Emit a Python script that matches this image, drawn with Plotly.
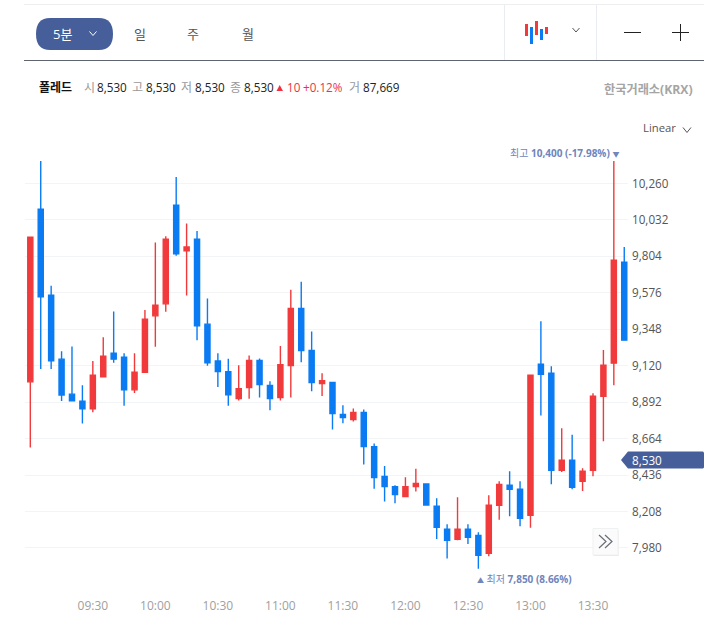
import plotly.graph_objects as go
import pandas as pd

W, H = 704, 638
RED, BLUE = "#F03A3B", "#0A7BF2"
NAVY = "#465F9B"
FONT = "Open Sans, Noto Sans CJK KR, sans-serif"

start_time = "2024-01-02 09:00"
opens = [9019,10099,9561,9161,8942,8898,8850,9050,9198,9173,8969,9079,9432,9507,10124,9839,9912,9380,9150,9082,
         8915,8984,9153,8996,8921,9121,9478,9215,9009,9015,8815,8783,8827,8614,8427,8364,8301,8364,8380,8241,
         8097,8034,8097,8059,7947,8247,8372,8347,8184,9129,9073,8466,8529,8397,8466,8929,9136,9768]
closes = [9924,9551,9150,8937,8900,8850,9060,9180,9161,8969,9079,9411,9499,9912,9820,9862,9369,9138,9084,8938,
          8977,9153,9002,8915,9127,9478,9215,9015,9027,8821,8796,8827,8614,8420,8364,8314,8364,8383,8249,8109,
          8028,8097,8047,7934,8247,8378,8347,8166,9060,9067,8466,8529,8360,8460,8929,9123,9780,9280]
highs = [9924,10400,9620,9211,9240,8998,9150,9298,9459,9198,9198,9469,9891,9930,10300,10010,9962,9540,9198,9163,
         9123,9184,9165,9023,9244,9595,9645,9334,9073,9015,8873,8852,8846,8633,8493,8372,8422,8475,8380,8291,
         8128,8297,8128,8078,8310,8397,8460,8397,9060,9398,9117,8729,8689,8479,8948,9219,10400,9862]
lows = [8608,9100,9100,8900,8900,8758,8829,9050,9138,8869,8950,9079,9238,9457,9807,9559,9280,9119,8987,8869,
        8902,8913,8921,8842,8902,8921,9142,8961,8931,8721,8760,8771,8502,8351,8270,8260,8301,8333,8249,8036,
        7915,8028,8005,7850,7928,8157,8178,8116,8107,8808,8378,8456,8347,8337,8428,8647,8998,9280]
y_ticks = [10260,10032,9804,9576,9348,9120,8892,8664,8436,8208,7980]
x_tick_labels = ["09:30","10:00","10:30","11:00","11:30","12:00","12:30","13:00","13:30"]
last_price = 8530
high_price, high_label = 10400, "10,400 (-17.98%)"
low_price, low_label = 7850, "7,850 (8.66%)"
header_items = [("시","8,530"),("고","8,530"),("저","8,530"),("종","8,530")]
tabs = ["일","주","월"]

times = pd.date_range(start_time, periods=len(opens), freq="5min")
day = start_time[:10]

fig = go.Figure(go.Candlestick(
    x=times, open=opens, high=highs, low=lows, close=closes,
    increasing=dict(line=dict(color=RED, width=1.4), fillcolor=RED),
    decreasing=dict(line=dict(color=BLUE, width=1.4), fillcolor=BLUE),
    whiskerwidth=0, showlegend=False, hoverinfo="skip",
))

px = lambda x: x / W
py = lambda y: 1 - y / H
shapes, anns = [], []
PAD = 2  # annotation inner padding

def label(x, y, text, size=11.7, color="#333", anchor="left"):
    dx = {"left": -PAD, "right": PAD}.get(anchor, 0)
    anns.append(dict(xref="paper", yref="paper", x=px(x + dx), y=py(y), text=text, showarrow=False,
                     xanchor=anchor, yanchor="middle", align=anchor,
                     font=dict(size=size, color=color, family=FONT)))

def line(x0, y0, x1, y1, color, width=1):
    shapes.append(dict(type="line", xref="paper", yref="paper", x0=px(x0), y0=py(y0), x1=px(x1), y1=py(y1),
                       line=dict(color=color, width=width)))

def rect(x0, y0, x1, y1, color, border=None):
    shapes.append(dict(type="rect", xref="paper", yref="paper", x0=px(x0), y0=py(y0), x1=px(x1), y1=py(y1),
                       fillcolor=color, line=dict(width=1 if border else 0, color=border)))

def path(points, color=None, fill=None, width=1, close=False):
    d = "M" + " L".join(f"{px(a):.5f},{py(b):.5f}" for a, b in points) + (" Z" if close else "")
    shapes.append(dict(type="path", xref="paper", yref="paper", path=d, fillcolor=fill,
                       line=dict(color=color or "rgba(0,0,0,0)", width=width)))

def chevron(cx, cy, color="#555", w=4, h=2.5, width=1):
    path([(cx - w, cy - h), (cx, cy + h), (cx + w, cy - h)], color=color, width=width)

# toolbar frame
line(24, 4.5, 704, 4.5, "#EDEEF0", 1)
line(24, 60.5, 704, 60.5, "#5F6570", 1)
line(504.5, 5, 504.5, 60, "#E9ECF1", 1)
line(596.5, 5, 596.5, 60, "#E9ECF1", 1)

# period pill
r = 14
x0, x1, y0, y1 = 36, 113, 18, 50
d = (f"M{px(x0+r):.5f},{py(y0):.5f} L{px(x1-r):.5f},{py(y0):.5f} "
     f"Q{px(x1):.5f},{py(y0):.5f} {px(x1):.5f},{py((y0+y1)/2):.5f} "
     f"Q{px(x1):.5f},{py(y1):.5f} {px(x1-r):.5f},{py(y1):.5f} L{px(x0+r):.5f},{py(y1):.5f} "
     f"Q{px(x0):.5f},{py(y1):.5f} {px(x0):.5f},{py((y0+y1)/2):.5f} "
     f"Q{px(x0):.5f},{py(y0):.5f} {px(x0+r):.5f},{py(y0):.5f} Z")
shapes.append(dict(type="path", xref="paper", yref="paper", path=d, fillcolor=NAVY, line=dict(width=0)))
label(62, 34, "5분", 13, "#FFFFFF", "center")
chevron(93, 33.5, "#FFFFFF", 3.5, 2)
for t, tx in zip(tabs, [140, 193, 248]):
    label(tx, 34, t, 13, "#555555", "center")

# candle icon, zoom controls
for a, b, c, col in [(525,24,36,RED),(530,27,44,BLUE),(535,21,35,RED),(540,29,40,BLUE),(545,27,34,RED)]:
    rect(a, b, a + 3, c, col)
chevron(576, 30, "#555555", 3.5, 2)
line(624, 32.5, 641, 32.5, "#222222", 1)
line(672, 32.5, 689, 32.5, "#222222", 1)
line(680.5, 24, 680.5, 41, "#222222", 1)

# header row
HY = 87
label(39, HY, "<b>폴레드</b>", 12, "#111111")
for (k, v), kx, vx in zip(header_items, [84, 132, 181, 230], [97, 146, 195, 244]):
    label(kx, HY, k, 12, "#999999")
    label(vx, HY, v, 11.7, "#222222")
path([(276.5, 91), (283, 91), (279.7, 85)], fill="#F03040")
label(287, HY, "10", 11.7, "#F0304A")
label(303, HY, "+0.12%", 11.7, "#F0304A")
label(349, HY, "거", 12, "#999999")
label(363, HY, "87,669", 11.7, "#222222")
label(693, 89, "<b>한국거래소(KRX)</b>", 12.2, "#A5A5A5", "right")
label(643, 128, "Linear", 11.3, "#555555")
chevron(687, 130, "#555555", 4, 2.5)

# high / low markers
hi = len(highs) - 1 - highs[::-1].index(high_price)
lo = lows.index(low_price)
HC = "#6F85BC"
anns.append(dict(x=times[hi], y=high_price, xref="x", yref="y", showarrow=False, xanchor="right", yanchor="bottom",
                 xshift=7, yshift=-1, text=f'최고 <b>{high_label}</b> <span style="font-size:7px">▼</span>',
                 font=dict(size=10, color=HC, family=FONT)))
anns.append(dict(x=times[lo], y=low_price, xref="x", yref="y", showarrow=False, xanchor="left", yanchor="top",
                 xshift=-3, yshift=-1, text=f'<span style="font-size:7px">▲</span> 최저 <b>{low_label}</b>',
                 font=dict(size=10, color=HC, family=FONT)))

# last price tag
shapes.append(dict(type="path", xref="paper", yref="paper", fillcolor=NAVY, line=dict(width=0),
                   path="M" + " L".join(f"{px(a):.5f},{py(b):.5f}" for a, b in
                                         [(621, 460), (628, 451.5), (703, 451.5), (704, 452.5), (704, 467.5), (703, 468.5), (628, 468.5)]) + " Z"))
label(632, 460, f"{last_price:,}", 11.7, "#FFFFFF")

# scroll button
rect(593.5, 530, 618.5, 556, "#E3E5E9")
rect(593, 528.5, 618, 555, "#FBFBFC", "#F0F1F3")
path([(599, 535), (606, 541.5), (599, 548)], color="#6A6E76", width=1.2)
path([(605, 535), (612, 541.5), (605, 548)], color="#6A6E76", width=1.2)

fig.update_layout(
    width=W, height=H, autosize=False,
    margin=dict(l=0, r=0, t=0, b=0, pad=0),
    paper_bgcolor="#FFFFFF", plot_bgcolor="rgba(0,0,0,0)",
    font=dict(family=FONT, size=12, color="#555555"),
    shapes=shapes, annotations=anns, dragmode=False,
    xaxis=dict(
        domain=[px(25), px(628)],
        range=[f"{day} 08:57:27", f"{day} 13:46:48"],
        type="date", rangeslider=dict(visible=False),
        tickvals=[f"{day} {t}" for t in x_tick_labels], ticktext=x_tick_labels,
        showgrid=False, zeroline=False, showline=False, ticks="",
        tickfont=dict(size=12, color="#A0A0A0"),
        anchor="y", ticklabelstandoff=2,
    ),
    yaxis=dict(
        domain=[py(595), py(115)],
        range=[7686, 10688],
        side="right", anchor="x",
        tickvals=y_ticks, ticktext=[f"{v:,}" for v in y_ticks],
        showgrid=True, gridcolor="#F3F4F5", gridwidth=1,
        zeroline=False, showline=False, ticks="",
        tickfont=dict(size=11.7, color="#555555"),
        ticklabelstandoff=3,
    ),
)
fig.write_html("out.html", config=dict(displayModeBar=False, responsive=False),
               post_script="document.body.style.margin='0';")
